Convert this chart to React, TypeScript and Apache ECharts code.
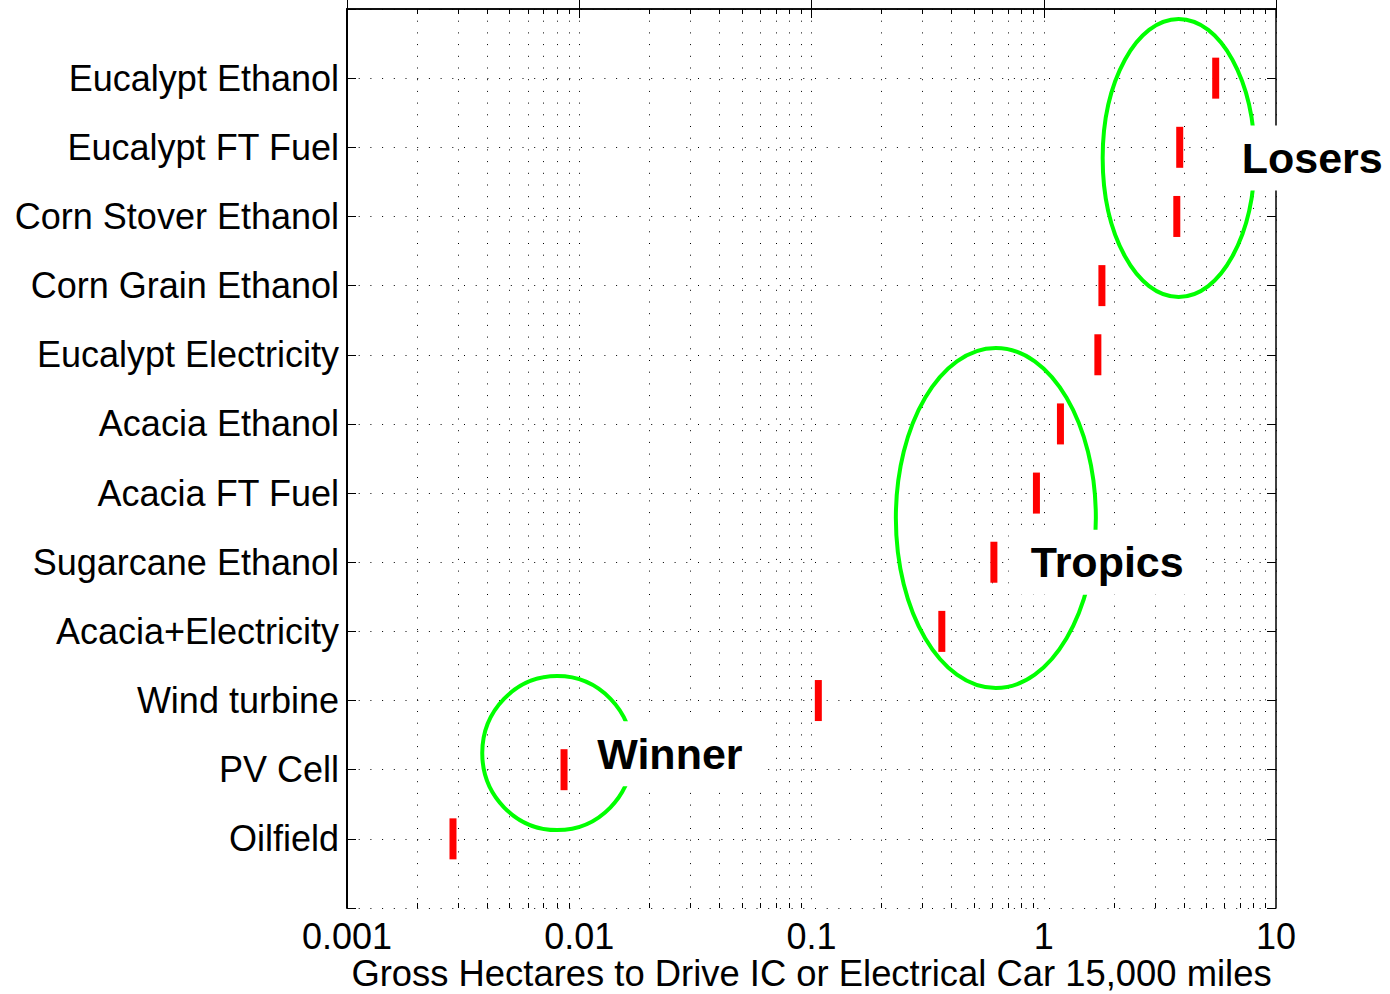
import React, { useEffect, useRef } from "react";
import * as echarts from "echarts";

// Pathways, listed top to bottom
const pathways = [
  "Eucalypt Ethanol",
  "Eucalypt FT Fuel",
  "Corn Stover Ethanol",
  "Corn Grain Ethanol",
  "Eucalypt Electricity",
  "Acacia Ethanol",
  "Acacia FT Fuel",
  "Sugarcane Ethanol",
  "Acacia+Electricity",
  "Wind turbine",
  "PV Cell",
  "Oilfield",
];

// Gross hectares needed per pathway (same order as above)
const hectares = [5.5, 3.85, 3.74, 1.78, 1.71, 1.18, 0.93, 0.61, 0.364, 0.107, 0.0086, 0.00286];

// Decade tick values of the log axis
const decadeTicks = [0.001, 0.01, 0.1, 1, 10];

// Minor (2..9) values inside every decade
const minorMultipliers = [2, 3, 4, 5, 6, 7, 8, 9];

// Callout groups: ellipse centre [x, row], radii in px, label anchor [x, row]
const calloutNames = ["Losers", "Tropics", "Winner"];
const calloutCentres: [number, number][] = [[3.81, 2.155], [0.622, 7.36], [0.00804, 10.76]];
const calloutRadii: [number, number][] = [[76, 139], [100, 170], [75, 77]];
const calloutLabelAt: [number, number][] = [[7.12, 2.155], [0.879, 8.0], [0.01195, 10.77]];

const xTitle = "Gross Hectares to Drive IC or Electrical Car 15,000 miles";

const FONT = "'Liberation Sans', Arial, Helvetica, sans-serif";
const DOTS = [1, 10.7];
const W = 1390;
const H = 994;

export default function App() {
  const ref = useRef<HTMLDivElement>(null);

  useEffect(() => {
    if (!ref.current) return;
    const chart = echarts.init(ref.current, undefined, { renderer: "svg", width: W, height: H });

    const minorValues: number[] = [];
    for (let i = 0; i < decadeTicks.length - 1; i++) {
      for (const m of minorMultipliers) minorValues.push(+(decadeTicks[i] * m).toPrecision(6));
    }

    const points = hectares.map((h, i) => [h, i + 1]);
    const rowCount = pathways.length + 1;

    const axisLine = { show: true, lineStyle: { color: "#000", width: 1.5 } };
    const tick = { show: true, inside: true, length: 9, lineStyle: { color: "#000", width: 1 } };

    chart.setOption({
      animation: false,
      backgroundColor: "#fff",
      grid: {
        left: 347,
        top: 9,
        right: 114,
        bottom: 86,
        containLabel: false,
        outerBoundsMode: "none",
      },
      xAxis: [
        {
          type: "log",
          logBase: 10,
          min: decadeTicks[0],
          max: decadeTicks[decadeTicks.length - 1],
          position: "bottom",
          axisLine,
          axisTick: tick,
          splitLine: { show: true, lineStyle: { color: "#000", width: 1, type: DOTS } },
          axisLabel: {
            show: true,
            margin: 10,
            color: "#000",
            fontSize: 36,
            fontFamily: FONT,
            formatter: (v: number) => String(parseFloat(v.toPrecision(6))),
          },
          name: xTitle,
          nameLocation: "middle",
          nameGap: 47,
          nameMoveOverlap: false,
          nameTextStyle: { color: "#000", fontSize: 36.4, lineHeight: 36, fontFamily: FONT },
        },
        {
          type: "log",
          logBase: 10,
          min: decadeTicks[0],
          max: decadeTicks[decadeTicks.length - 1],
          position: "top",
          axisLine,
          axisTick: tick,
          splitLine: { show: false },
          axisLabel: { show: false },
        },
      ],
      yAxis: [
        {
          type: "value",
          min: 0,
          max: rowCount,
          interval: 1,
          inverse: true,
          position: "left",
          axisLine: { show: true, lineStyle: { color: "#000", width: 2 } },
          axisTick: tick,
          splitLine: { show: true, lineStyle: { color: "#000", width: 1, type: DOTS } },
          axisLabel: {
            show: true,
            margin: 8,
            color: "#000",
            fontSize: 36,
            fontFamily: FONT,
            formatter: (v: number) => pathways[v - 1] ?? "",
          },
        },
        {
          type: "value",
          min: 0,
          max: rowCount,
          interval: 1,
          inverse: true,
          position: "right",
          axisLine,
          axisTick: tick,
          splitLine: { show: false },
          axisLabel: { show: false },
        },
      ],
      series: [
        {
          // minor grid lines and minor ticks of the log axis
          type: "custom",
          xAxisIndex: 0,
          yAxisIndex: 0,
          silent: true,
          z: 1,
          data: minorValues.map((v) => [v, 0]),
          renderItem: (params: any, api: any) => {
            const cs = params.coordSys;
            const x = Math.round(api.coord([api.value(0), 0])[0]) + 0.5;
            const top = cs.y;
            const bottom = cs.y + cs.height;
            return {
              type: "group",
              children: [
                {
                  type: "line",
                  shape: { x1: x, y1: top, x2: x, y2: bottom },
                  style: { stroke: "#000", lineWidth: 1, lineDash: DOTS },
                },
                {
                  type: "line",
                  shape: { x1: x, y1: bottom, x2: x, y2: bottom - 5 },
                  style: { stroke: "#000", lineWidth: 1 },
                },
                {
                  type: "line",
                  shape: { x1: x, y1: top, x2: x, y2: top + 5 },
                  style: { stroke: "#000", lineWidth: 1 },
                },
              ],
            };
          },
        },
        {
          type: "scatter",
          xAxisIndex: 0,
          yAxisIndex: 0,
          symbol: "rect",
          symbolSize: [7, 41],
          itemStyle: { color: "#ff0000", opacity: 1 },
          z: 5,
          data: points,
        },
      ],
    });

    const toPx = (p: [number, number]) =>
      chart.convertToPixel({ xAxisIndex: 0, yAxisIndex: 0 }, p) as number[];

    const graphics: any[] = [];
    calloutNames.forEach((name, i) => {
      const c = toPx(calloutCentres[i]);
      const l = toPx(calloutLabelAt[i]);
      graphics.push({
        type: "ellipse",
        z: 50,
        silent: true,
        shape: { cx: c[0], cy: c[1], rx: calloutRadii[i][0], ry: calloutRadii[i][1] },
        style: { fill: "none", stroke: "#00ff00", lineWidth: 4 },
      });
      graphics.push({
        type: "text",
        z: 60,
        silent: true,
        x: l[0] - 22,
        y: l[1],
        style: {
          text: name,
          fill: "#000",
          font: `bold 43px ${FONT}`,
          align: "left",
          verticalAlign: "middle",
          backgroundColor: "#fff",
          padding: [11, 22, 11, 22],
        },
      });
    });
    chart.setOption({ graphic: graphics });

    return () => chart.dispose();
  }, []);

  return (
    <div
      ref={ref}
      style={{ position: "fixed", left: 0, top: 0, width: W, height: H, background: "#fff" }}
    />
  );
}
